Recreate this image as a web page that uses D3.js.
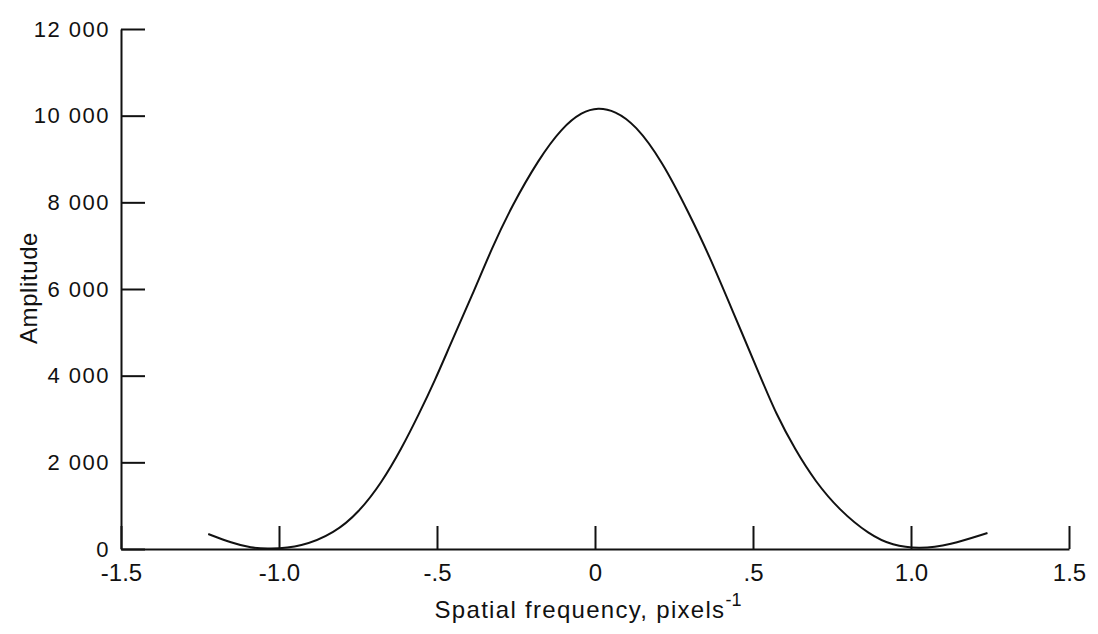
<!DOCTYPE html>
<html>
<head>
<meta charset="utf-8">
<script src="https://cdn.jsdelivr.net/npm/d3@7"></script>
<style>
  body { margin: 0; background: #fff; }
  text { font-family: "Liberation Sans", Arial, sans-serif; fill: #111; }
</style>
</head>
<body>
<div id="chart"></div>
<script>
// values
var freq = [-1.224, -1.15, -1.088, -1.034, -0.929, -0.824, -0.748, -0.675, -0.612, -0.558,
            -0.507, -0.453, -0.39, -0.326, -0.263, -0.178, -0.105, -0.041, 0.01, 0.063,
            0.127, 0.212, 0.298, 0.361, 0.434, 0.529, 0.571, 0.634, 0.697, 0.773,
            0.868, 0.941, 1.027, 1.122, 1.242];
var amp = [347, 140, 23, 0, 46, 370, 840, 1530, 2320, 3100,
           3880, 4800, 5830, 6950, 7920, 9000, 9720, 10090, 10190, 10110,
           9800, 8960, 7740, 6780, 5520, 3880, 3150, 2280, 1560, 900,
           330, 80, 0, 92, 370];
var xTicks = [-1.5, -1.0, -0.5, 0, 0.5, 1.0, 1.5];
var xTickLabels = ["-1.5", "-1.0", "-.5", "0", ".5", "1.0", "1.5"];
var yTicks = [0, 2000, 4000, 6000, 8000, 10000, 12000];
var yTickLabels = ["0", "2 000", "4 000", "6 000", "8 000", "10 000", "12 000"];

var width = 1098, height = 634;

var svg = d3.select("#chart")
  .append("svg")
  .attr("width", width)
  .attr("height", height);

var x = d3.scaleLinear().domain([-1.5, 1.5]).range([121, 1069]);
var y = d3.scaleLinear().domain([0, 12000]).range([549, 29]);

// x axis, ticks pointing up into the plot
var xAxis = d3.axisBottom(x)
  .tickValues(xTicks)
  .tickSizeInner(-23)
  .tickSizeOuter(0)
  .tickPadding(32)
  .tickFormat(function(d, i) { return xTickLabels[i]; });

var gx = svg.append("g")
  .attr("transform", "translate(0," + y(0) + ")")
  .call(xAxis);
gx.selectAll("text").style("font-size", "24px").attr("dy", "0");

// y axis, ticks pointing right
var yAxis = d3.axisLeft(y)
  .tickValues(yTicks)
  .tickSizeInner(-24)
  .tickSizeOuter(0)
  .tickPadding(11)
  .tickFormat(function(d, i) { return yTickLabels[i]; });

var gy = svg.append("g")
  .attr("transform", "translate(" + x(-1.5) + ",0)")
  .call(yAxis);
gy.selectAll("text").style("font-size", "22px").style("letter-spacing", "1.5px");

svg.selectAll(".domain").attr("stroke", "#111").attr("stroke-width", 2);
svg.selectAll(".tick line").attr("stroke", "#111").attr("stroke-width", 2);

var line = d3.line()
  .x(function(d, i) { return x(freq[i]); })
  .y(function(d) { return y(d); })
  .curve(d3.curveBasis);

svg.append("path")
  .datum(amp)
  .attr("d", line)
  .attr("fill", "none")
  .attr("stroke", "#111")
  .attr("stroke-width", 2);

// axis titles
var xt = svg.append("text")
  .attr("x", 588)
  .attr("y", 618)
  .attr("text-anchor", "middle")
  .style("font-size", "24px")
  .style("letter-spacing", "1.3px");
xt.append("tspan").text("Spatial frequency, pixels");
xt.append("tspan").attr("dy", "-12").style("font-size", "18px").style("letter-spacing", "0px").text("-1");

svg.append("text")
  .attr("transform", "translate(37,288) rotate(-90)")
  .attr("text-anchor", "middle")
  .style("font-size", "24px")
  .style("letter-spacing", "0.6px")
  .text("Amplitude");
</script>
</body>
</html>
